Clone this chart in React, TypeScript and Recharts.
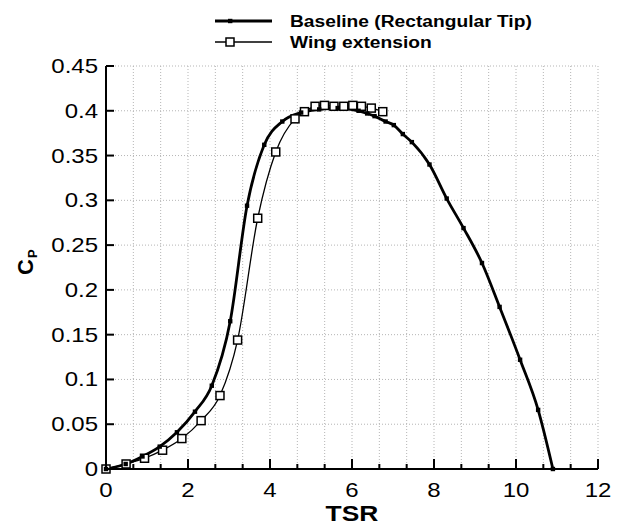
import React from 'react';
import { LineChart, Line, XAxis, YAxis, CartesianGrid, Label } from 'recharts';

const baselineTSR = [0, 0.48, 0.89, 1.31, 1.73, 2.17, 2.58, 3.03, 3.44, 3.86, 4.3, 4.76, 5.2, 5.65, 6.16, 6.37, 6.55, 6.82, 7.02, 7.24, 7.46, 7.89, 8.31, 8.72, 9.17, 9.6, 10.1, 10.54, 10.9];
const baselineCp = [0, 0.0056, 0.014, 0.025, 0.041, 0.064, 0.093, 0.165, 0.294, 0.362, 0.388, 0.398, 0.4015, 0.403, 0.4, 0.397, 0.394, 0.388, 0.384, 0.374, 0.365, 0.34, 0.302, 0.269, 0.23, 0.181, 0.122, 0.066, 0];
const wingTSR = [0, 0.49, 0.94, 1.38, 1.85, 2.32, 2.78, 3.21, 3.7, 4.14, 4.61, 4.84, 5.1, 5.33, 5.56, 5.8, 6.02, 6.23, 6.47, 6.75];
const wingCp = [0, 0.0056, 0.012, 0.021, 0.034, 0.054, 0.082, 0.144, 0.28, 0.354, 0.391, 0.399, 0.405, 0.406, 0.405, 0.405, 0.406, 0.405, 0.403, 0.399];

const xMajorTicks = [0, 2, 4, 6, 8, 10, 12];
const xAllTicks = Array.from({ length: 19 }, (_, i) => (i * 2) / 3);
const yTicks = [0, 0.05, 0.1, 0.15, 0.2, 0.25, 0.3, 0.35, 0.4, 0.45];
const yTickLabels = ['0', '0.05', '0.1', '0.15', '0.2', '0.25', '0.3', '0.35', '0.4', '0.45'];
const seriesNames = ['Baseline (Rectangular Tip)', 'Wing extension'];
const xTitle = 'TSR';

const baselineData = baselineTSR.map((x, i) => ({ tsr: x, cp: baselineCp[i] }));
const wingData = wingTSR.map((x, i) => ({ tsr: x, cp: wingCp[i] }));

const FONT = '"Liberation Sans", Arial, sans-serif';
const SX = 1.2;

const isMajor = (v: number) => xMajorTicks.some((m) => Math.abs(m - v) < 1e-6);

const XTick = (props: any) => {
  const { x, y, payload } = props;
  const v = payload.value;
  const major = isMajor(v);
  return (
    <g>
      <line x1={x} y1={y} x2={x} y2={y - (major ? 10 : 5)} stroke="#000" strokeWidth={2} />
      {major && (
        <text transform={`translate(${x},${y + 28}) scale(${SX},1)`} textAnchor="middle" fontSize={20} fontFamily={FONT} fill="#000">
          {String(Math.round(v))}
        </text>
      )}
    </g>
  );
};

const YTick = (props: any) => {
  const { x, y, payload } = props;
  const idx = yTicks.findIndex((t) => Math.abs(t - payload.value) < 1e-9);
  return (
    <g>
      <line x1={x} y1={y} x2={x + 8} y2={y} stroke="#000" strokeWidth={2} />
      <text transform={`translate(${x - 8},${y + 7}) scale(${SX},1)`} textAnchor="end" fontSize={20} fontFamily={FONT} fill="#000">
        {idx >= 0 ? yTickLabels[idx] : ''}
      </text>
    </g>
  );
};

const BaseDot = (p: any) => (
  <rect key={`b${p.index}`} x={p.cx - 2.2} y={p.cy - 2.2} width={4.4} height={4.4} fill="#000" />
);
const WingDot = (p: any) => (
  <rect key={`w${p.index}`} x={p.cx - 4} y={p.cy - 4} width={8} height={8} fill="#fff" stroke="#000" strokeWidth={1.5} />
);

export default function App() {
  return (
    <div style={{ position: 'absolute', left: 0, top: 0, width: 635, height: 528, background: '#fff' }}>
      <LineChart width={635} height={528} margin={{ top: 66, right: 37, bottom: 0, left: 0 }}>
        <CartesianGrid stroke="#b5b5b5" strokeDasharray="1 2" strokeWidth={1} />
        <XAxis
          type="number"
          dataKey="tsr"
          domain={[0, 12]}
          ticks={xAllTicks}
          interval={0}
          height={59}
          tickSize={0}
          tickMargin={0}
          tickLine={false}
          axisLine={{ stroke: '#000', strokeWidth: 2 }}
          tick={XTick}
        >
          <Label
            content={() => (
              <text transform={`translate(352,521) scale(${SX},1)`} textAnchor="middle" fontSize={22} fontWeight="bold" fontFamily={FONT} fill="#000">
                {xTitle}
              </text>
            )}
          />
        </XAxis>
        <YAxis
          type="number"
          domain={[0, 0.45]}
          ticks={yTicks}
          interval={0}
          width={106}
          tickSize={0}
          tickMargin={0}
          tickLine={false}
          axisLine={{ stroke: '#000', strokeWidth: 2 }}
          tick={YTick}
        >
          <Label
            content={() => (
              <g>
                <text transform="translate(33,275) rotate(-90)" fontSize={22} fontWeight="bold" fontFamily={FONT} fill="#000">C</text>
                <text transform="translate(37,258) rotate(-90)" fontSize={13} fontWeight="bold" fontFamily={FONT} fill="#000">P</text>
              </g>
            )}
          />
        </YAxis>
        <Line
          data={wingData}
          dataKey="cp"
          type="monotone"
          stroke="#000"
          strokeWidth={1.3}
          dot={WingDot}
          isAnimationActive={false}
          name={seriesNames[1]}
        />
        <Line
          data={baselineData}
          dataKey="cp"
          type="monotone"
          stroke="#000"
          strokeWidth={2.8}
          dot={BaseDot}
          isAnimationActive={false}
          name={seriesNames[0]}
        />
      </LineChart>
      <svg width={635} height={60} style={{ position: 'absolute', left: 0, top: 0 }}>
        <line x1={215} y1={21} x2={272} y2={21} stroke="#000" strokeWidth={3} />
        <rect x={228} y={18.8} width={4.4} height={4.4} fill="#000" />
        <text transform={`translate(290,27) scale(1.13,1)`} fontSize={17} fontWeight="bold" fontFamily={FONT} fill="#000">
          {seriesNames[0]}
        </text>
        <line x1={215} y1={42} x2={272} y2={42} stroke="#000" strokeWidth={1.3} />
        <rect x={226} y={38} width={8} height={8} fill="#fff" stroke="#000" strokeWidth={1.5} />
        <text transform={`translate(290,48) scale(1.13,1)`} fontSize={17} fontWeight="bold" fontFamily={FONT} fill="#000">
          {seriesNames[1]}
        </text>
      </svg>
    </div>
  );
}
